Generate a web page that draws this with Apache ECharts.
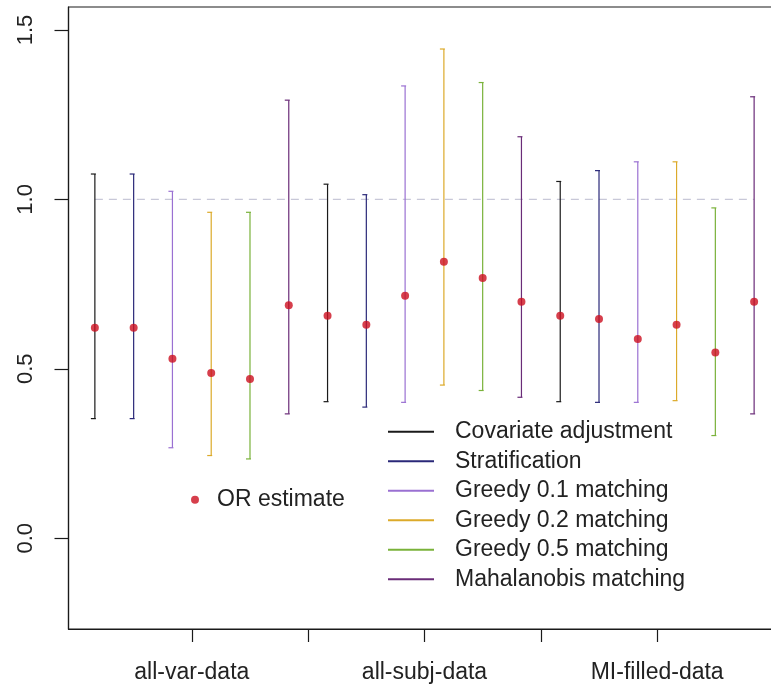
<!DOCTYPE html>
<html>
<head>
<meta charset="utf-8">
<script src="https://cdn.jsdelivr.net/npm/echarts@6/dist/echarts.min.js"></script>
<style>
    html, body { margin: 0; padding: 0; background: #fff; overflow: hidden; }
    /* plot box runs a little past the right edge of the window, like the original */
    #chart { width: 781px; height: 688px; }
</style>
</head>
<body>
<div id="chart"></div>
<script>
// data sets on the x axis, methods inside each group
var groups = ['all-var-data', 'all-subj-data', 'MI-filled-data'];
var methods = ['Covariate adjustment', 'Stratification', 'Greedy 0.1 matching',
    'Greedy 0.2 matching', 'Greedy 0.5 matching', 'Mahalanobis matching'];

// odds ratio estimate and interval, one row per data set, one column per method
var estimate = [
    [0.621, 0.621, 0.530, 0.488, 0.470, 0.688],
    [0.657, 0.630, 0.716, 0.816, 0.768, 0.698],
    [0.657, 0.647, 0.588, 0.630, 0.548, 0.698]
];
var lower = [
    [0.353, 0.353, 0.267, 0.244, 0.234, 0.367],
    [0.403, 0.387, 0.401, 0.452, 0.436, 0.416],
    [0.403, 0.401, 0.401, 0.406, 0.303, 0.367]
];
var upper = [
    [1.075, 1.075, 1.024, 0.962, 0.962, 1.293],
    [1.045, 1.014, 1.335, 1.444, 1.345, 1.185],
    [1.053, 1.085, 1.111, 1.111, 0.975, 1.303]
];

var yTicks = [0, 0.5, 1.0, 1.5];
var xTicks = [3.5, 6.5, 9.5, 12.5, 15.5];
var xLabels = [3.5, 9.5, 15.5];
var refLine = 1.0;

var colors = ['#1a1a1a', '#2a2878', '#9a70d2', '#dcaa2a', '#7ab23a', '#6a2c78'];
var font = '"Liberation Sans", Arial, sans-serif';

var series = [];
var points = [];

for (var m = 0; m < methods.length; m++) {
    var rows = [];
    for (var g = 0; g < groups.length; g++) {
        var pos = g * methods.length + m + 1;
        rows.push([pos, lower[g][m], upper[g][m]]);
    }
    series.push({
        name: methods[m],
        type: 'custom',
        z: 3,
        itemStyle: { color: colors[m] },
        data: rows,
        renderItem: (function (col) {
            return function (params, api) {
                var lo = api.coord([api.value(0), api.value(1)]);
                var hi = api.coord([api.value(0), api.value(2)]);
                var st = { stroke: col, lineWidth: 1.2 };
                return {
                    type: 'group',
                    children: [
                        { type: 'line', shape: { x1: lo[0], y1: lo[1], x2: hi[0], y2: hi[1] }, style: st },
                        { type: 'line', shape: { x1: hi[0] - 4, y1: hi[1], x2: hi[0] + 1, y2: hi[1] }, style: st },
                        { type: 'line', shape: { x1: lo[0] - 4, y1: lo[1], x2: lo[0] + 1, y2: lo[1] }, style: st }
                    ]
                };
            };
        })(colors[m])
    });
}

for (var g = 0; g < groups.length; g++) {
    for (var m = 0; m < methods.length; m++) {
        points.push([g * methods.length + m + 1, estimate[g][m]]);
    }
}

// dashed reference line at OR = 1
series.unshift({
    name: 'ref',
    type: 'line',
    z: 1,
    symbol: 'none',
    silent: true,
    lineStyle: { color: '#c8c8d8', width: 1.2, type: [8, 6] },
    data: [[1, refLine], [groups.length * methods.length, refLine]]
});

series.push({
    name: 'OR estimate',
    type: 'scatter',
    z: 5,
    symbol: 'circle',
    symbolSize: 8,
    itemStyle: { color: '#cc0f1f' },
    data: points
});

var option = {
    animation: false,
    backgroundColor: '#fff',
    textStyle: { fontFamily: font },
    grid: {
        left: 68.5,
        right: 0.5,
        top: 7,
        bottom: 59,
        show: true,
        borderColor: '#1a1a1a',
        borderWidth: 1.2
    },
    legend: [
        {
            orient: 'vertical',
            left: 383,
            top: 412,
            itemWidth: 46,
            itemHeight: 2,
            itemGap: 0,
            icon: 'rect',
            selectedMode: false,
            data: methods,
            textStyle: {
                fontFamily: font,
                fontSize: 23,
                color: '#222',
                lineHeight: 29.5,
                padding: [0, 0, 0, 16]
            }
        },
        {
            orient: 'vertical',
            left: 186,
            top: 480,
            itemWidth: 8,
            itemHeight: 8,
            icon: 'circle',
            selectedMode: false,
            data: ['OR estimate'],
            textStyle: {
                fontFamily: font,
                fontSize: 23,
                color: '#222',
                lineHeight: 29.5,
                padding: [0, 0, 0, 13]
            }
        }
    ],
    xAxis: {
        type: 'value',
        min: 0.32,
        max: 18.68,
        splitLine: { show: false },
        axisLine: { show: true, onZero: false, lineStyle: { color: '#1a1a1a', width: 1.2 } },
        axisTick: { show: true, length: 13, customValues: xTicks, lineStyle: { color: '#1a1a1a', width: 1.2 } },
        axisLabel: {
            customValues: xLabels,
            margin: 32,
            fontSize: 23,
            color: '#222',
            fontFamily: font,
            formatter: function (v) {
                return groups[xLabels.indexOf(v)] || '';
            }
        }
    },
    yAxis: {
        type: 'value',
        min: -0.268,
        max: 1.568,
        splitLine: { show: false },
        axisLine: { show: true, onZero: false, lineStyle: { color: '#1a1a1a', width: 1.2 } },
        axisTick: { show: true, length: 14, customValues: yTicks, lineStyle: { color: '#1a1a1a', width: 1.2 } },
        axisLabel: {
            customValues: yTicks,
            rotate: 90,
            margin: 32,
            fontSize: 22,
            color: '#222',
            fontFamily: font,
            formatter: function (v) { return v.toFixed(1); }
        }
    },
    series: series
};

var myChart = echarts.init(document.getElementById('chart'));
myChart.setOption(option);
</script>
</body>
</html>
